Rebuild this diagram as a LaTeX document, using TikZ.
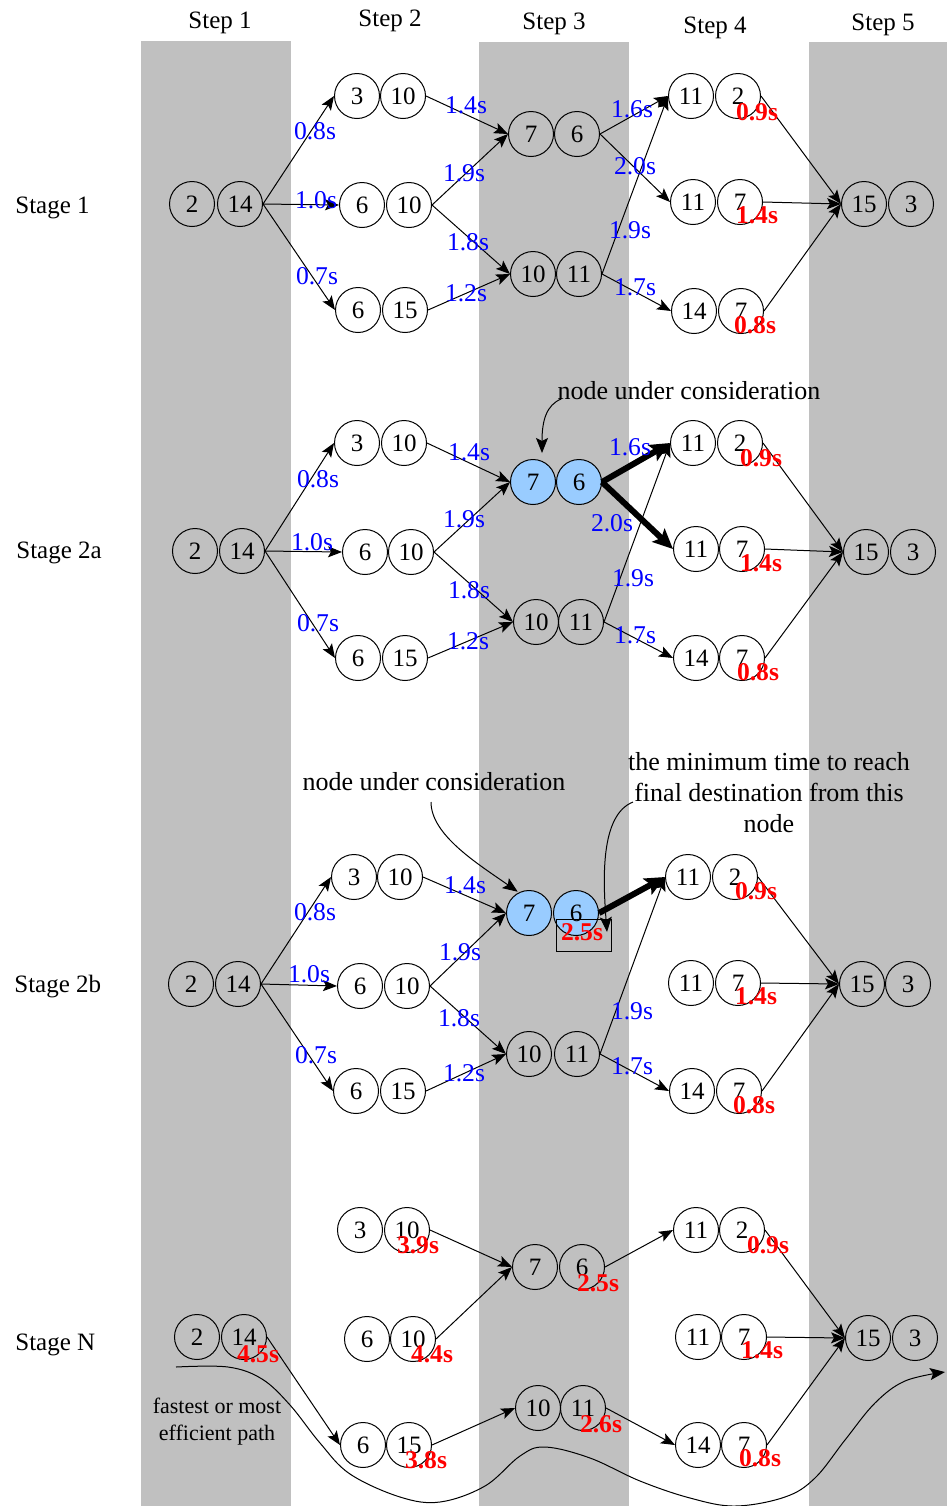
\documentclass[tikz,border=0pt]{standalone}
\usepackage{fontspec}
\setmainfont{Liberation Serif}
\usetikzlibrary{arrows.meta,calc}
\definecolor{bandgray}{RGB}{192,192,192}
\definecolor{focusblue}{RGB}{153,204,255}

\tikzset{
  pairnode/.style={circle,draw,line width=0.5pt,minimum size=22.5pt,inner sep=0pt,
    font=\fontsize{12.5}{14}\selectfont},
  focusfill/.style={fill=focusblue},
  thinarr/.style={line width=0.5pt,-{Stealth[length=7pt,width=5.5pt,inset=1.5pt]}},
  boldarr/.style={line width=3pt,-{Stealth[length=10pt,width=9pt,inset=2pt]}},
  notearr/.style={line width=0.5pt,-{Stealth[length=7.5pt,width=6pt,inset=1.5pt]}},
  lblblue/.style={text=blue,inner sep=0pt,font=\fontsize{12.8}{14}\selectfont},
  lblred/.style={text=red,inner sep=0pt,font=\bfseries\fontsize{12.8}{14}\selectfont},
  stepcap/.style={anchor=base,inner sep=0pt,font=\fontsize{12.5}{14}\selectfont},
  stagecap/.style={anchor=base west,inner sep=0pt,font=\fontsize{12.5}{14}\selectfont},
  notetext/.style={inner sep=0pt,font=\fontsize{13}{15.5}\selectfont,align=center},
}

% a pair of circled numbers: [style] name, x of first, x of second, y, first, second
\newcommand\cpair[7][]{%
  \node[pairnode,#1] (#2a) at (#3,#5) {#6};
  \node[pairnode,#1] (#2b) at (#4,#5) {#7};}

\begin{document}
\begin{tikzpicture}[x=0.5pt,y=-0.5pt]
\useasboundingbox (0,0) rectangle (947,1506);

% column bands
\fill[bandgray] (141,41) rectangle (291,1506);
\fill[bandgray] (479,42) rectangle (629,1506);
\fill[bandgray] (809,42) rectangle (947,1506);

% column and row captions
\node[stepcap] (h1) at (220,28) {Step 1};
\node[stepcap] (h2) at (390,26) {Step 2};
\node[stepcap] (h3) at (554,29) {Step 3};
\node[stepcap] (h4) at (715,33) {Step 4};
\node[stepcap] (h5) at (883,30) {Step 5};

\node[stagecap] (r1) at (15,213) {Stage 1};
\node[stagecap] (r2) at (16,558) {Stage 2a};
\node[stagecap] (r3) at (14,992) {Stage 2b};
\node[stagecap] (r4) at (15,1350) {Stage N};

% ---------- Stage 1 ----------
\cpair{s1A}{192}{240}{204}{2}{14}
\cpair{s1B1}{357}{403}{96}{3}{10}
\cpair{s1B2}{362}{409}{205}{6}{10}
\cpair{s1B3}{358}{405}{310}{6}{15}
\cpair{s1C1}{531}{577}{134}{7}{6}
\cpair{s1C2}{533}{579}{274}{10}{11}
\cpair{s1D1}{691}{738}{96}{11}{2}
\cpair{s1D2}{693}{740}{202}{11}{7}
\cpair{s1D3}{694}{741}{311}{14}{7}
\cpair{s1E}{864}{911}{204}{15}{3}

% ---------- Stage 2a ----------
\cpair{s2A}{195}{242}{551}{2}{14}
\cpair{s2B1}{357}{404}{443}{3}{10}
\cpair{s2B2}{365}{411}{552}{6}{10}
\cpair{s2B3}{358}{405}{658}{6}{15}
\cpair[focusfill]{s2C1}{533}{579}{482}{7}{6}
\cpair{s2C2}{536}{581}{622}{10}{11}
\cpair{s2D1}{693}{740}{443}{11}{2}
\cpair{s2D2}{696}{742}{549}{11}{7}
\cpair{s2D3}{696}{742}{658}{14}{7}
\cpair{s2E}{866}{913}{552}{15}{3}

% ---------- Stage 2b ----------
\cpair{s3A}{191}{238}{984}{2}{14}
\cpair{s3B1}{354}{400}{877}{3}{10}
\cpair{s3B2}{360}{407}{986}{6}{10}
\cpair{s3B3}{356}{403}{1091}{6}{15}
\cpair[focusfill]{s3C1}{529}{576}{913}{7}{6}
\cpair{s3C2}{529}{577}{1054}{10}{11}
\cpair{s3D1}{688}{735}{877}{11}{2}
\cpair{s3D2}{691}{738}{983}{11}{7}
\cpair{s3D3}{692}{739}{1091}{14}{7}
\cpair{s3E}{862}{908}{984}{15}{3}

% ---------- Stage N ----------
\cpair{s4A}{197}{244}{1337}{2}{14}
\cpair{s4B1}{360}{407}{1230}{3}{10}
\cpair{s4B2}{367}{413}{1339}{6}{10}
\cpair{s4B3}{363}{409}{1445}{6}{15}
\cpair{s4C1}{535}{582}{1267}{7}{6}
\cpair{s4C2}{538}{583}{1408}{10}{11}
\cpair{s4D1}{696}{742}{1230}{11}{2}
\cpair{s4D2}{698}{744}{1337}{11}{7}
\cpair{s4D3}{698}{744}{1445}{14}{7}
\cpair{s4E}{868}{915}{1338}{15}{3}

% edges shared by the first three stages
\foreach \s in {s1,s2,s3}{
  \draw[thinarr] (\s Ab.east) -- (\s B1a.west);
  \draw[thinarr] (\s Ab.east) -- (\s B2a.west);
  \draw[thinarr] (\s Ab.east) -- (\s B3a.west);
  \draw[thinarr] (\s B1b.east) -- (\s C1a.west);
  \draw[thinarr] (\s B2b.east) -- (\s C1a.west);
  \draw[thinarr] (\s B2b.east) -- (\s C2a.west);
  \draw[thinarr] (\s B3b.east) -- (\s C2a.west);
  \draw[thinarr] (\s C2b.east) -- (\s D1a.west);
  \draw[thinarr] (\s C2b.east) -- (\s D3a.west);
  \draw[thinarr] (\s D1b.east) -- (\s Ea.west);
  \draw[thinarr] (\s D2b.east) -- (\s Ea.west);
  \draw[thinarr] (\s D3b.east) -- (\s Ea.west);
}
\draw[thinarr] (s1C1b.east) -- (s1D1a.west);
\draw[thinarr] (s1C1b.east) -- (s1D2a.west);
\draw[boldarr] (s2C1b.east) -- (s2D1a.west);
\draw[boldarr] (s2C1b.east) -- (s2D2a.west);
\draw[boldarr] (s3C1b.east) -- (s3D1a.west);

% edges of the final stage
\draw[thinarr] (s4Ab.east) -- (s4B3a.west);
\draw[thinarr] (s4B1b.east) -- (s4C1a.west);
\draw[thinarr] (s4B2b.east) -- (s4C1a.west);
\draw[thinarr] (s4B3b.east) -- (s4C2a.west);
\draw[thinarr] (s4C1b.east) -- (s4D1a.west);
\draw[thinarr] (s4C2b.east) -- (s4D3a.west);
\draw[thinarr] (s4D1b.east) -- (s4Ea.west);
\draw[thinarr] (s4D2b.east) -- (s4Ea.west);
\draw[thinarr] (s4D3b.east) -- (s4Ea.west);

% travel times, stage 1
\node[lblblue] (t101) at (315,131) {0.8s};
\node[lblblue] (t102) at (316,200) {1.0s};
\node[lblblue] (t103) at (317,276) {0.7s};
\node[lblblue] (t104) at (466,105) {1.4s};
\node[lblblue] (t105) at (464,173) {1.9s};
\node[lblblue] (t106) at (468,242) {1.8s};
\node[lblblue] (t107) at (466,293) {1.2s};
\node[lblblue] (t108) at (632,109) {1.6s};
\node[lblblue] (t109) at (635,166) {2.0s};
\node[lblblue] (t110) at (630,230) {1.9s};
\node[lblblue] (t111) at (635,287) {1.7s};
\node[lblred] (m101) at (757,112) {0.9s};
\node[lblred] (m102) at (757,215) {1.4s};
\node[lblred] (m103) at (755,325) {0.8s};

% travel times, stage 2a
\node[lblblue] (t201) at (318,479) {0.8s};
\node[lblblue] (t202) at (312,542) {1.0s};
\node[lblblue] (t203) at (318,623) {0.7s};
\node[lblblue] (t204) at (469,452) {1.4s};
\node[lblblue] (t205) at (464,519) {1.9s};
\node[lblblue] (t206) at (469,590) {1.8s};
\node[lblblue] (t207) at (468,641) {1.2s};
\node[lblblue] (t208) at (630,447) {1.6s};
\node[lblblue] (t209) at (612,523) {2.0s};
\node[lblblue] (t210) at (633,578) {1.9s};
\node[lblblue] (t211) at (635,635) {1.7s};
\node[lblred] (m201) at (761,458) {0.9s};
\node[lblred] (m202) at (761,563) {1.4s};
\node[lblred] (m203) at (758,672) {0.8s};

% travel times, stage 2b
\node[lblblue] (t301) at (315,912) {0.8s};
\node[lblblue] (t302) at (309,974) {1.0s};
\node[lblblue] (t303) at (316,1055) {0.7s};
\node[lblblue] (t304) at (465,885) {1.4s};
\node[lblblue] (t305) at (460,952) {1.9s};
\node[lblblue] (t306) at (459,1018) {1.8s};
\node[lblblue] (t307) at (464,1073) {1.2s};
\node[lblblue] (t310) at (632,1011) {1.9s};
\node[lblblue] (t311) at (632,1066) {1.7s};
\node[lblred] (m301) at (756,891) {0.9s};
\node[lblred] (m302) at (756,996) {1.4s};
\node[lblred] (m303) at (754,1105) {0.8s};
\node[draw,line width=0.5pt,minimum width=27.5pt,minimum height=16pt,inner sep=0pt]
  (minbox) at (583.5,935) {};
\node[lblred] (m304) at (582,932) {2.5s};

% times to the destination, stage N
\node[lblred] (m401) at (258,1354) {4.5s};
\node[lblred] (m402) at (418,1245) {3.9s};
\node[lblred] (m403) at (432,1354) {4.4s};
\node[lblred] (m404) at (426,1460) {3.8s};
\node[lblred] (m405) at (598,1283) {2.5s};
\node[lblred] (m406) at (601,1424) {2.6s};
\node[lblred] (m407) at (768,1245) {0.9s};
\node[lblred] (m408) at (762,1350) {1.4s};
\node[lblred] (m409) at (760,1458) {0.8s};

% annotations
\node[notetext,anchor=base] (note2a) at (689,399) {node under consideration};
\draw[notearr] ($(note2a.base west)+(4,0)$) .. controls +(-15,6) and +(0,-32) ..
  ($(s2C1a.north)+(9,-6)$);

\node[notetext,anchor=base] (note2b) at (434,790) {node under consideration};
\draw[notearr] ($(note2b.base)+(-3,12)$) .. controls +(0,33) and +(-40,-28) ..
  ($(s3C1a.north west)+(5,-5)$);

\node[notetext] (note2c) at (769,792.5) {the minimum time to reach\\final destination from this\\node};
\coordinate (cfrom) at (633,802);
\coordinate (cto) at (607,932);
\draw[notearr] (cfrom) .. controls (600,815) and (603,880) .. (cto);

\node[inner sep=0pt,align=center,font=\fontsize{11}{13.5}\selectfont] (fastnote)
  at (217,1421.5) {fastest or most\\efficient path};
\coordinate (pstart) at (176,1367);
\coordinate (pend) at (945,1372);
\draw[notearr] plot[smooth,tension=0.6] coordinates {(pstart) (228,1367) (262,1379)
  (290,1405) (320,1443) (350,1474) (400,1497) (440,1502) (485,1486) (520,1456)
  (545,1447) (590,1458) (640,1481) (690,1498) (735,1506) (785,1497) (815,1478)
  (845,1440) (875,1403) (905,1381) (pend)};

\end{tikzpicture}
\end{document}
